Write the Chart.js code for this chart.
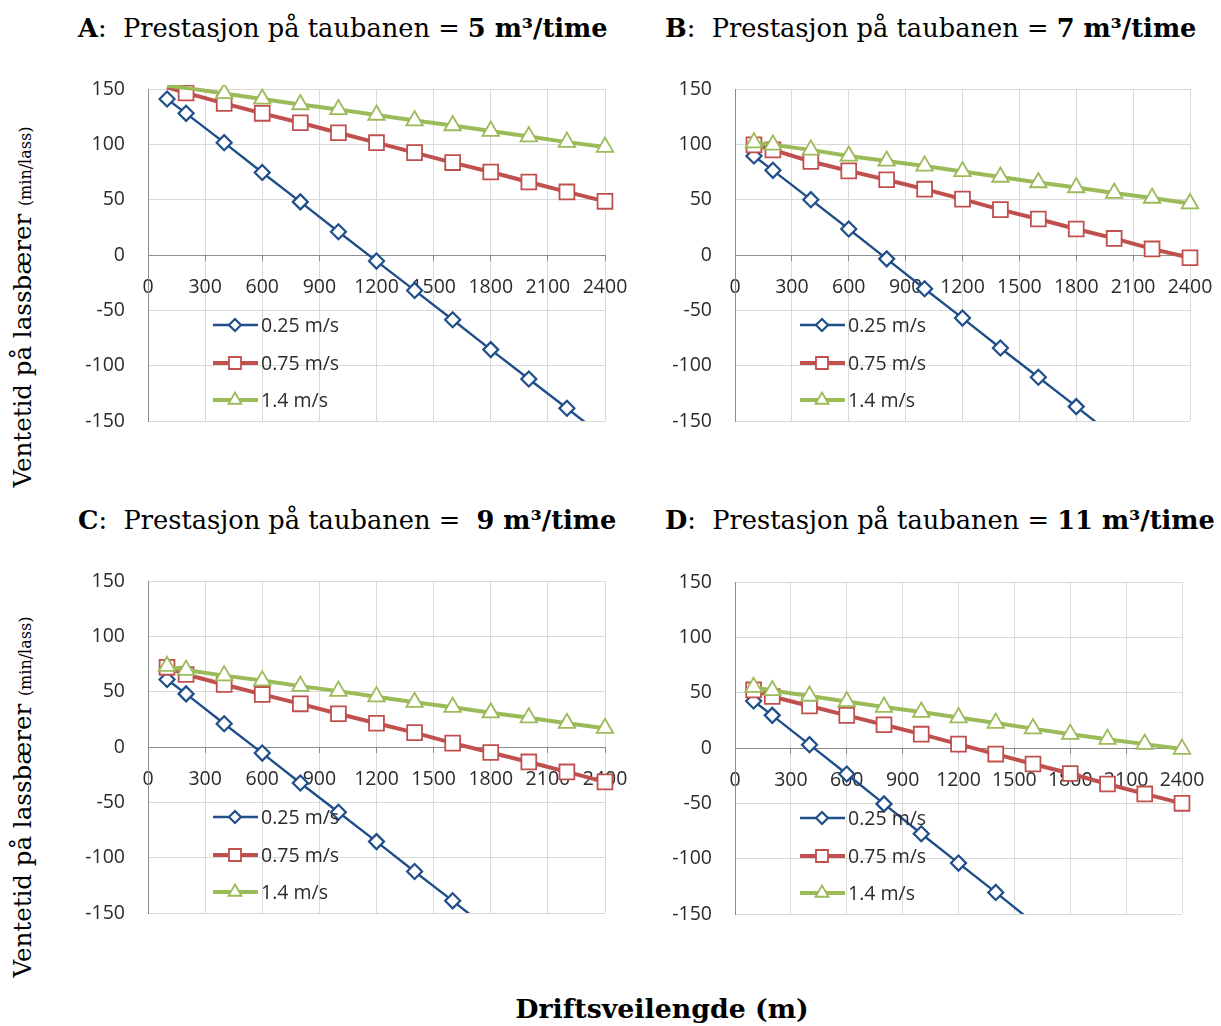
<!DOCTYPE html>
<html>
<head>
<meta charset="utf-8">
<script src="https://cdn.jsdelivr.net/npm/chart.js@4.4.1/dist/chart.umd.min.js"></script>
<style>
  body { margin: 0; background: #fff; width: 1221px; height: 1026px; position: relative; overflow: hidden; }
  .title { position: absolute; font-family: 'DejaVu Serif', serif; font-size: 25.7px; white-space: pre; color: #000; line-height: 30px; }
  .title b { font-weight: bold; }
  .panel { position: absolute; }
  .ytitle { position: absolute; font-family: 'DejaVu Serif', serif; font-size: 24.5px; white-space: pre; color: #000;
            transform: translate(-50%, -50%) rotate(-90deg); }
  .ytitle small { font-size: 16px; }
  .xtitle { position: absolute; font-family: 'DejaVu Serif', serif; font-size: 26.8px; font-weight: bold; white-space: pre;
            transform: translate(-50%, -50%); }
</style>
</head>
<body>

<div class="title" style="left:78px; top:13px"><b>A</b>:  Prestasjon på taubanen = <b>5 m³/time</b></div>
<div class="title" style="left:665px; top:13px"><b>B</b>:  Prestasjon på taubanen = <b>7 m³/time</b></div>
<div class="title" style="left:78px; top:505px"><b>C</b>:  Prestasjon på taubanen =  <b>9 m³/time</b></div>
<div class="title" style="left:665px; top:505px"><b>D</b>:  Prestasjon på taubanen = <b>11 m³/time</b></div>

<div class="ytitle" style="left:22px; top:307px">Ventetid på lassbærer <small>(min/lass)</small></div>
<div class="ytitle" style="left:22px; top:797px">Ventetid på lassbærer <small>(min/lass)</small></div>
<div class="xtitle" style="left:662px; top:1008px">Driftsveilengde (m)</div>

<div class="panel" id="boxA"><canvas id="chartA"></canvas></div>
<div class="panel" id="boxB"><canvas id="chartB"></canvas></div>
<div class="panel" id="boxC"><canvas id="chartC"></canvas></div>
<div class="panel" id="boxD"><canvas id="chartD"></canvas></div>

<script>
// driftsveilengde (m) for hvert beregningspunkt
const distances = [100, 200, 400, 600, 800, 1000, 1200, 1400, 1600, 1800, 2000, 2200, 2400];
const xTickValues = [0, 300, 600, 900, 1200, 1500, 1800, 2100, 2400];
const yTickValues = [-150, -100, -50, 0, 50, 100, 150];
const speedLabels = ['0.25 m/s', '0.75 m/s', '1.4 m/s'];

// 5 m3/time
const waitA025 = [141, 128, 101.5, 74.5, 48, 21, -5.5, -32, -58.5, -85.5, -112, -138.5, -165];
const waitA075 = [151.5, 146.5, 137, 128, 119.5, 110.5, 101.5, 92.5, 83.5, 75, 66, 57, 48.5];
const waitA14  = [153, 151, 146, 141, 136, 131.5, 126.5, 121.5, 117, 112, 107, 102, 97.5];

// 7 m3/time
const waitB025 = [89.5, 76.5, 50, 23.5, -3.5, -30.5, -57, -84, -110.5, -137, -164, null, null];
const waitB075 = [99.5, 95, 84.5, 76, 68, 59.5, 50.5, 41, 32.5, 23.5, 15, 5.5, -2.5];
const waitB14  = [101.5, 99.5, 95, 89.5, 85, 80.5, 75.5, 70.5, 65.5, 61, 56, 51.5, 46.5];

// 9 m3/time
const waitC025 = [61, 48, 21, -5.5, -32.5, -59, -85.5, -112.5, -139, -166, null, null, null];
const waitC075 = [72, 65.5, 56.5, 47.5, 39, 30, 21.5, 13, 3.5, -5, -13.5, -22.5, -31.5];
const waitC14  = [73, 69.5, 64.5, 60, 55, 50.5, 45.5, 40.5, 36, 31, 26.5, 21.5, 17];

// 11 m3/time
const waitD025 = [42.5, 29.5, 3, -23.5, -50.5, -77.5, -104, -130.5, -157.5, null, null, null, null];
const waitD075 = [52.5, 46.5, 38, 29.5, 21, 12.5, 3.5, -5.5, -14.5, -23, -32.5, -41.5, -50];
const waitD14  = [55, 52, 47, 42, 37, 32.5, 27.5, 22.5, 17.5, 12.5, 8, 3.5, -1];

const Y_MIN = -150, Y_MAX = 150;
const TICK_FONT = { family: "'Open Sans', sans-serif", size: 19.5 };
const TEXT_COLOR = '#2b2b2b';

const seriesStyles = [
  { color: '#1f4e8a', width: 2.4, point: 'rectRot', radius: 7.5, pointBorder: 2.2, legendRadius: 6 },
  { color: '#c0504d', width: 4, point: 'rect', radius: 10.5, pointBorder: 1.8, legendRadius: 8.5 },
  { color: '#9bbb59', width: 4, point: 'triangle', radius: 9.5, pointBorder: 1.8, legendRadius: 7.5 }
];

// plot area of each panel in page pixels
const panels = [
  { id: 'A', rect: { l: 148, t: 89, r: 605, b: 421 }, series: [waitA025, waitA075, waitA14] },
  { id: 'B', rect: { l: 735, t: 89, r: 1190, b: 421 }, series: [waitB025, waitB075, waitB14] },
  { id: 'C', rect: { l: 148, t: 581, r: 605, b: 913 }, series: [waitC025, waitC075, waitC14] },
  { id: 'D', rect: { l: 735, t: 582, r: 1182, b: 914 }, series: [waitD025, waitD075, waitD14] }
];

const AXIS_W = 110, PAD_T = 20, PAD_B = 20, PAD_R = 50;
const LEGEND_ROWS = [236, 274, 311];

const inRange = v => v !== null && v >= Y_MIN && v <= Y_MAX;

const inlineLegend = {
  id: 'inlineLegend',
  afterDatasetsDraw(chart) {
    const { ctx, chartArea } = chart;
    const x0 = chartArea.left + 65;
    chart.data.datasets.forEach((ds, i) => {
      const st = seriesStyles[i];
      const y = chartArea.top + LEGEND_ROWS[i];
      ctx.save();
      ctx.strokeStyle = st.color;
      ctx.lineWidth = st.width;
      ctx.beginPath();
      ctx.moveTo(x0, y);
      ctx.lineTo(x0 + 45, y);
      ctx.stroke();
      ctx.fillStyle = '#ffffff';
      ctx.lineWidth = st.pointBorder;
      Chart.helpers.drawPoint(ctx, { pointStyle: st.point, radius: st.legendRadius, borderWidth: st.pointBorder, rotation: 0 }, x0 + 22, y);
      ctx.fillStyle = TEXT_COLOR;
      ctx.font = `${TICK_FONT.size}px ${TICK_FONT.family}`;
      ctx.textBaseline = 'middle';
      ctx.textAlign = 'left';
      ctx.fillText(ds.label, x0 + 48, y + 1);
      ctx.restore();
    });
  }
};

function buildDatasets(series) {
  return series.map((values, i) => {
    const st = seriesStyles[i];
    return {
      label: speedLabels[i],
      data: distances.map((d, k) => ({ x: d, y: values[k] })),
      borderColor: st.color,
      borderWidth: st.width,
      pointStyle: st.point,
      pointRadius: ctx => inRange(ctx.raw.y) ? st.radius : 0,
      pointBorderWidth: st.pointBorder,
      pointBorderColor: st.color,
      pointBackgroundColor: '#ffffff',
      tension: 0,
      spanGaps: false,
      order: 2 - i,
      clip: { left: false, top: 4, right: false, bottom: 0 }
    };
  });
}

function renderPanel(p) {
  const { l, t, r, b } = p.rect;
  const box = document.getElementById('box' + p.id);
  const canvas = document.getElementById('chart' + p.id);
  const w = (r - l) + AXIS_W + PAD_R;
  const h = (b - t) + PAD_T + PAD_B;
  box.style.left = (l - AXIS_W) + 'px';
  box.style.top = (t - PAD_T) + 'px';
  canvas.width = w;
  canvas.height = h;
  canvas.style.width = w + 'px';
  canvas.style.height = h + 'px';

  new Chart(canvas.getContext('2d'), {
    type: 'line',
    data: { datasets: buildDatasets(p.series) },
    options: {
      responsive: false,
      animation: false,
      events: [],
      layout: { padding: { left: 0, top: PAD_T, right: PAD_R, bottom: PAD_B } },
      plugins: { legend: { display: false }, tooltip: { enabled: false }, title: { display: false } },
      scales: {
        x: {
          type: 'linear',
          position: { y: 0 },
          min: 0,
          max: 2400,
          afterBuildTicks: scale => { scale.ticks = xTickValues.map(v => ({ value: v })); },
          afterFit: scale => { scale.height = 0; scale.paddingLeft = 0; scale.paddingRight = 0; },
          grid: { color: '#d9d9d9', lineWidth: 1, drawTicks: true, tickLength: 5, tickColor: '#8c8c8c' },
          border: { display: true, color: '#8c8c8c', width: 1 },
          ticks: { autoSkip: false, maxRotation: 0, padding: 16, color: TEXT_COLOR, font: TICK_FONT,
                   callback: v => String(v) }
        },
        y: {
          type: 'linear',
          min: Y_MIN,
          max: Y_MAX,
          afterBuildTicks: scale => { scale.ticks = yTickValues.map(v => ({ value: v })); },
          afterFit: scale => { scale.width = AXIS_W; scale.paddingTop = 0; scale.paddingBottom = 0; },
          grid: { color: '#d9d9d9', lineWidth: 1, drawTicks: false },
          border: { display: true, color: '#8c8c8c', width: 1 },
          ticks: { padding: 23, color: TEXT_COLOR, font: TICK_FONT, callback: v => String(v) }
        }
      }
    },
    plugins: [inlineLegend]
  });
}

document.addEventListener('DOMContentLoaded', () => {
  panels.forEach(renderPanel);
});
</script>
</body>
</html>
